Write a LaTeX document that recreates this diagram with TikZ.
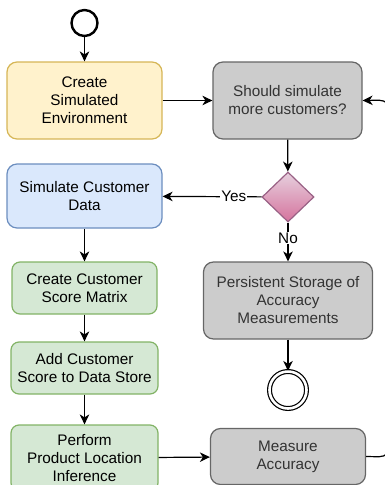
\documentclass[tikz,border=0pt]{standalone}
\usepackage{fontspec}
\setmainfont{Liberation Sans}
\usetikzlibrary{shapes.geometric,arrows.meta}
\definecolor{yfill}{HTML}{FFF2CC}\definecolor{ydraw}{HTML}{D6B656}
\definecolor{bfill}{HTML}{DAE8FC}\definecolor{bdraw}{HTML}{6C8EBF}
\definecolor{gfill}{HTML}{D5E8D4}\definecolor{gdraw}{HTML}{82B366}
\definecolor{kfill}{HTML}{CCCCCC}\definecolor{kdraw}{HTML}{666666}
\definecolor{ktext}{HTML}{333333}
\definecolor{ptop}{HTML}{E6D0DE}\definecolor{pbot}{HTML}{D5739D}\definecolor{pdraw}{HTML}{996185}
\tikzset{
  box/.style={rectangle, rounded corners=10pt, line width=1.2pt, align=center,
    inner sep=0pt, font=\fontsize{15.3}{18}\selectfont},
  yellowbox/.style={box, fill=yfill, draw=ydraw},
  bluebox/.style={box, fill=bfill, draw=bdraw},
  greenbox/.style={box, fill=gfill, draw=gdraw, rounded corners=8pt},
  graybox/.style={box, fill=kfill, draw=kdraw, text=ktext},
  flow/.style={line width=1.2pt, -{Stealth[length=10pt,width=9.5pt,inset=3pt]}},
  lbl/.style={fill=white, inner sep=1pt, font=\fontsize{15.3}{18}\selectfont},
}
\begin{document}
\begin{tikzpicture}[x=1pt,y=-1pt]
\useasboundingbox (0,0) rectangle (385,485);
\clip (0,0) rectangle (385,485);

% events
\node (start) [circle, draw, line width=2.4pt, minimum size=26pt, inner sep=0pt] at (84.5,23) {};
\node (stop) [circle, draw, line width=1.2pt, minimum size=37pt, inner sep=0pt,
  double, double distance=2.6pt] at (288,390) {};

% left column
\node (env) [yellowbox, minimum width=155pt, minimum height=77pt] at (84.5,100.5)
  {Create\\Simulated\\Environment};
\node (sim) [bluebox, minimum width=155pt, minimum height=64pt] at (84.5,196)
  {Simulate Customer\\Data};
\node (matrix) [greenbox, minimum width=145pt, minimum height=52pt] at (84.5,288)
  {Create Customer\\Score Matrix};
\node (store) [greenbox, minimum width=147pt, minimum height=52pt] at (84.5,368)
  {Add Customer\\Score to Data Store};
\node (infer) [greenbox, minimum width=147pt, minimum height=66pt] at (84.5,458)
  {Perform\\Product Location\\Inference};

% right column
\node (more) [graybox, minimum width=149pt, minimum height=77pt] at (287.5,100.5)
  {Should simulate\\more customers?};
\node (gate) [diamond, draw=pdraw, line width=1.2pt, top color=ptop, bottom color=pbot,
  minimum width=52pt, minimum height=50pt, inner sep=0pt] at (288,197) {};
\node (persist) [graybox, minimum width=169pt, minimum height=77pt] at (288,300.5)
  {Persistent Storage of\\Accuracy\\Measurements};
\node (measure) [graybox, minimum width=155pt, minimum height=56pt] at (288,456.5)
  {Measure\\Accuracy};

% connectors
\draw[flow] (start) -- (env);
\draw[flow] (env) -- (more);
\draw[flow] (more) -- (gate);
\draw[flow] (gate) -- node[lbl, pos=0.28] {Yes} (sim);
\draw[flow] (gate) -- node[lbl, pos=0.4] {No} (persist);
\draw[flow] (persist) -- (stop);
\draw[flow] (sim) -- (matrix);
\draw[flow] (matrix) -- (store);
\draw[flow] (store) -- (infer);
\draw[flow] (infer) -- (measure);

% loop back from the accuracy measurement to the decision
\coordinate (loopbot) at (391,457);
\coordinate (looptop) at (391,100);
\draw[flow, rounded corners=12pt] (measure.east) -- (loopbot) -- (looptop) -- (more.east);
\end{tikzpicture}
\end{document}
